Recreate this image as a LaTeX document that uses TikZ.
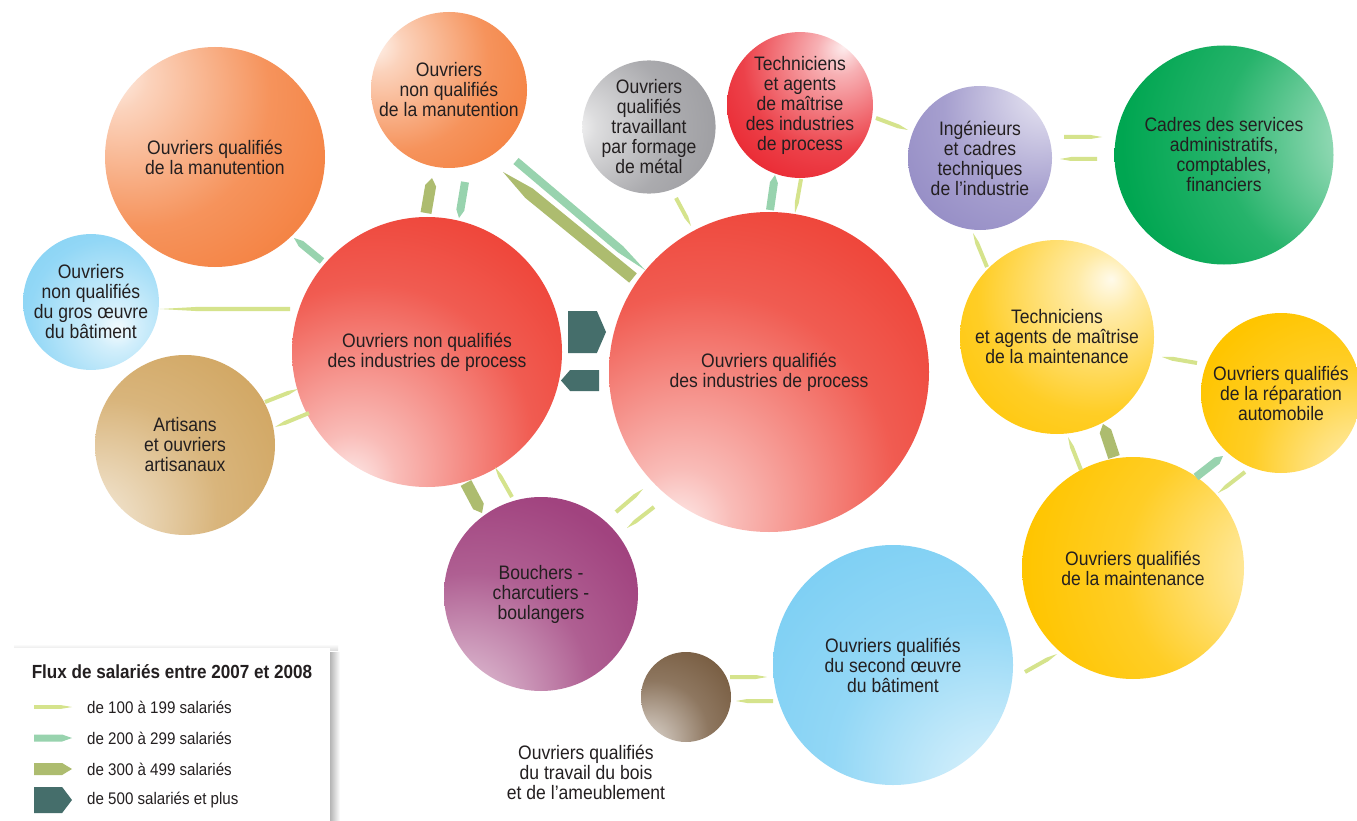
\documentclass[tikz,border=0pt]{standalone}
\usepackage{fontspec}
\setmainfont{Liberation Sans}[FakeStretch=0.9]
\usetikzlibrary{calc}
\definecolor{corange}{HTML}{F4803F}
\definecolor{cgray}{HTML}{9C9CA0}
\definecolor{credt}{HTML}{E9202A}
\definecolor{cpurple}{HTML}{968EC6}
\definecolor{cgreen}{HTML}{00A651}
\definecolor{cblue}{HTML}{7FD0F4}
\definecolor{cred}{HTML}{EE3F33}
\definecolor{ctan}{HTML}{D2A865}
\definecolor{cmag}{HTML}{A1437F}
\definecolor{cyellow}{HTML}{FFC500}
\definecolor{cbrown}{HTML}{7A5F44}
\definecolor{cthin}{HTML}{D5E38C}
\definecolor{cmint}{HTML}{98D3AE}
\definecolor{colive}{HTML}{ADBC6F}
\definecolor{cdark}{HTML}{456E6B}
\definecolor{ctext}{HTML}{231F20}
\newcommand\mkshade[4]{\pgfdeclareradialshading{#1}{\pgfpoint{#3bp}{#4bp}}{color(0bp)=(#2!8!white); color(8bp)=(#2!35!white); color(30bp)=(#2!85!white); color(46bp)=(#2); color(100bp)=(#2)}}
\mkshade{shA}{corange}{-25}{20}
\mkshade{shB}{corange}{-25}{15}
\mkshade{shC}{cgray}{-30}{0}
\mkshade{shD}{credt}{15}{20}
\mkshade{shE}{cpurple}{25}{25}
\mkshade{shF}{cgreen}{42}{5}
\mkshade{shG}{cblue}{10}{-10}
\mkshade{shH}{cred}{-15}{-25}
\mkshade{shI}{cred}{-15}{-25}
\mkshade{shJ}{ctan}{-30}{-25}
\mkshade{shK}{cmag}{-25}{-35}
\mkshade{shL}{cyellow}{14}{15}
\mkshade{shM}{cyellow}{30}{-30}
\mkshade{shN}{cyellow}{40}{0}
\mkshade{shO}{cblue}{25}{-30}
\mkshade{shP}{cbrown}{-25}{-30}
\newcommand\circfont{\fontsize{19.5}{20}\selectfont}
\newcommand\flow[6]{%
  \coordinate (#1s) at (#2);
  \coordinate (#1e) at (#3);
  \coordinate (#1h) at ($(#1e)!#5!(#1s)$);
  \fill[#6] ($(#1s)!#4!90:(#1e)$) -- ($(#1h)!#4!90:(#1e)$) -- (#1e) -- ($(#1h)!#4!-90:(#1e)$) -- ($(#1s)!#4!-90:(#1e)$) -- cycle;}
\tikzset{
  circ/.style={circle, inner sep=0pt, align=center, font=\circfont, text=ctext},
  fthin/.style={fill=cthin},
  fmint/.style={fill=cmint},
  folive/.style={fill=colive},
  fdark/.style={fill=cdark},
  legtext/.style={anchor=west, font=\fontsize{16.8}{18}\selectfont, text=ctext, inner sep=0pt}
}
\begin{document}
\begin{tikzpicture}[x=1pt,y=-1pt]
\useasboundingbox (0,0) rectangle (1357,821);
\fill[white] (0,0) rectangle (1357,821);
% circles
\node[circ, shading=shA, minimum size=220pt] (oqm) at (215,157) {Ouvriers qualifiés\\de la manutention};
\node[circ, shading=shB, minimum size=156pt] (onqm) at (449,90) {Ouvriers\\non qualifiés\\de la manutention};
\node[circ, shading=shC, minimum size=132pt] (oqf) at (649,127) {Ouvriers\\qualifiés\\travaillant\\par formage\\de métal};
\node[circ, shading=shD, minimum size=140pt] (tap) at (800,105) {Techniciens\\et agents\\de maîtrise\\des industries\\de process};
\node[circ, shading=shE, minimum size=144pt] (ict) at (980,158) {Ingénieurs\\et cadres\\techniques\\de l’industrie};
\node[circ, shading=shF, minimum size=219pt] (csa) at (1224,155) {Cadres des services\\administratifs,\\comptables,\\financiers};
\node[circ, shading=shG, minimum size=120pt] (onqg) at (91,302) {Ouvriers\\non qualifiés\\du gros œuvre\\du bâtiment};
\node[circ, shading=shH, minimum size=270pt] (onqp) at (427,352) {Ouvriers non qualifiés\\des industries de process};
\node[circ, shading=shI, minimum size=320pt] (oqp) at (769,372) {Ouvriers qualifiés\\des industries de process};
\node[circ, shading=shJ, minimum size=180pt] (art) at (185,445) {Artisans\\et ouvriers\\artisanaux};
\node[circ, shading=shK, minimum size=194pt] (bcb) at (541,594) {Bouchers -\\charcutiers -\\boulangers};
\node[circ, shading=shL, minimum size=194pt] (tam) at (1057,337) {Techniciens\\et agents de maîtrise\\de la maintenance};
\node[circ, shading=shM, minimum size=160pt] (oqr) at (1281,393) {Ouvriers qualifiés\\de la réparation\\automobile};
\node[circ, shading=shN, minimum size=222pt] (oqmt) at (1133,568) {Ouvriers qualifiés\\de la maintenance};
\node[circ, shading=shO, minimum size=240pt] (oqs) at (893,665) {Ouvriers qualifiés\\du second œuvre\\du bâtiment};
\node[circ, shading=shP, minimum size=90pt] (oqb) at (686,697) {};
\node[circ] (oqbl) at (586,772) {Ouvriers qualifiés\\du travail du bois\\et de l’ameublement};
% flows
\flow{f1}{426,213}{432,178}{5.5pt}{0.22}{folive}
\flow{f2}{465,182}{459,218}{4pt}{0.22}{fmint}
\flow{f3}{516,161}{645,270}{4pt}{0.19}{fmint}
\flow{f4}{633,278}{503,172}{6pt}{0.2}{folive}
\flow{f5}{568,332}{606,332}{21pt}{0.24}{fdark}
\flow{f6}{599,380.5}{561,380.5}{10.5pt}{0.24}{fdark}
\flow{f7}{322,261}{294,238}{3.5pt}{0.25}{fmint}
\flow{f8}{290,309}{160,309}{2.2pt}{0.3}{fthin}
\flow{f9}{265,402}{298,389}{2pt}{0.3}{fthin}
\flow{f10}{309,413}{275,427}{2pt}{0.3}{fthin}
\flow{f11}{466,483}{482,513}{6pt}{0.22}{folive}
\flow{f12}{512,497}{495,467}{2pt}{0.3}{fthin}
\flow{f13}{616,512}{643,489}{2pt}{0.3}{fthin}
\flow{f14}{654,507}{627,528}{2pt}{0.3}{fthin}
\flow{f15}{770,210}{775,175}{4pt}{0.22}{fmint}
\flow{f16}{801,179}{795,213}{2pt}{0.3}{fthin}
\flow{f17}{676,198}{691,226}{2pt}{0.3}{fthin}
\flow{f18}{876,118}{908,130}{2pt}{0.3}{fthin}
\flow{f19}{1064,137}{1102,137}{2pt}{0.3}{fthin}
\flow{f20}{1097,159}{1060,159}{2pt}{0.3}{fthin}
\flow{f21}{987,267}{973,233}{2pt}{0.3}{fthin}
\flow{f22}{1197,363}{1162,357}{2pt}{0.3}{fthin}
\flow{f23}{1081,470}{1068,437}{2pt}{0.3}{fthin}
\flow{f24}{1114,457}{1103,424}{6pt}{0.22}{folive}
\flow{f25}{1196,477}{1223,456}{4pt}{0.22}{fmint}
\flow{f26}{1245,472}{1218,493}{2pt}{0.3}{fthin}
\flow{f27}{1025,672}{1057,654}{2pt}{0.3}{fthin}
\flow{f28}{730,677}{767,677}{2pt}{0.3}{fthin}
\flow{f29}{773,701}{736,701}{2pt}{0.3}{fthin}
% legend
\shade[left color=black!35, right color=white] (328,652) rectangle (340,830);
\shade[bottom color=black!12, top color=white] (14,644) rectangle (338,650);
\fill[white] (12,648) rectangle (330,830);
\node[font=\bfseries\fontsize{19}{20}\selectfont, text=ctext, inner sep=0pt] (legt) at (172,672) {Flux de salariés entre 2007 et 2008};
\flow{l1}{34,707}{72,707}{1.8pt}{0.28}{fthin}
\flow{l2}{34,738}{72,738}{3.5pt}{0.26}{fmint}
\flow{l3}{34,769}{72,769}{6pt}{0.26}{folive}
\flow{l4}{34,800}{72,800}{13pt}{0.26}{fdark}
\node[legtext] (lt1) at (87,707) {de 100 à 199 salariés};
\node[legtext] (lt2) at (87,738) {de 200 à 299 salariés};
\node[legtext] (lt3) at (87,769) {de 300 à 499 salariés};
\node[legtext] (lt4) at (87,800) {de 500 salariés et plus};
\end{tikzpicture}
\end{document}
